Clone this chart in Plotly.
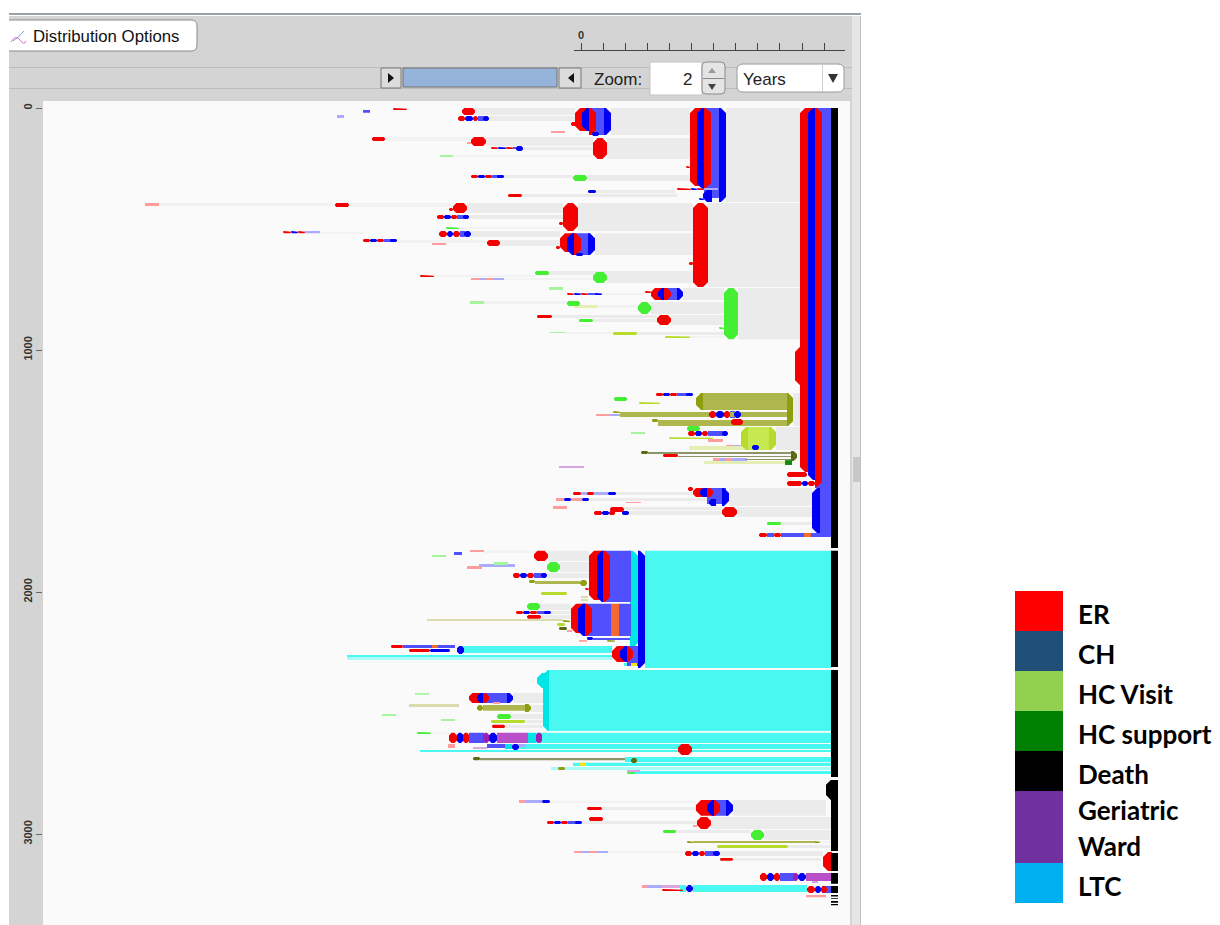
import plotly.graph_objects as go

W, H = 1220, 925
Y_PX_PER_UNIT = 0.242

Y_TICKS = [0, 1000, 2000, 3000]
RULER_TICKS = [0, 22.1, 44.2, 66.3, 88.4, 110.5, 132.6, 154.7, 176.8, 198.9, 221, 243.1]
RULER_LABELS = ["0"] + [""] * 11

LEGEND_LABELS = ["ER", "CH", "HC Visit", "HC support", "Death", "Geriatric", "Ward", "LTC"]
LEGEND_COLORS = ["#FF0000", "#1F4E79", "#92D050", "#008000", "#000000", "#7030A0", "#00B0F0"]
LEGEND_SPANS = [1, 1, 1, 1, 1, 1.8, 1]

# every episode: (start, end, first row, last row)
GREY_GAPS = [
    (30,109,0,112),(26,109,124,211),(-106,-6,0,29),(-92,-6,33,54),(-95,12,120,157),
    (-58,12,161,174),(6,109,277,302),(-77,-8,277,289),(15,94,339,351),(-59,96,355,368),
    (145,219,0,388),(127,219,393,740),(26,112,678,723),(-3,112,393,508),(14,112,517,607),(-114,-18,393,434),
    (-112,-18,442,459),(-110,-21,508,533),
    (-81,-21,545,570),(102,143,744,793),(70,143,802,851),(90,143,855,897),
    (157,219,744,955),(-32,112,674,690),
    (-29,76,855,868),(12,76,872,884),(56,143,926,938),
    (212,219,1178,1314),(195,219,1318,1413),(148,231,1570,1645),(156,231,1649,1690),(35,112,1587,1599),
    (8,128,1611,1624),(43,141,1649,1661),(48,141,1665,1682),(200,231,1711,1723),(-33,8,1830,1872),
    (-21,8,1876,1917),(-34,8,1921,1942),(-30,-10,2078,2091),(-41,-10,2049,2074),
    (-40,-10,2095,2111),(-68,-38,2417,2459),(-50,-38,2467,2496),(-70,-38,2504,2525),(-56,-38,2529,2541),
    (-76,-38,2549,2562),(152,245,2859,2925),(130,251,2930,2979),(21,115,2888,2901),(1,116,2946,2959),
    (95,170,2983,2996),(183,251,2983,3025),(139,242,3070,3091),(152,240,3099,3111),
    (207,251,3045,3058),
]
GREY_GAPS_THIN = [
    (-196,-110,120,136),(-128,12,194,202),(-232,-128,393,409),(-422,-246,393,405),(-122,-18,492,500),
    (-184,-94,545,558),(-261,-218,512,521),(-147,-46,690,698),(-77,12,702,711),(21,64,764,773),(17,57,814,826),
    (-97,-14,797,810),(-16,32,926,934),(109,143,942,950),(-97,-47,1830,1839),(239,251,3029,3037),
    (-31,115,2863,2872),(27,104,3070,3078),(-150,-132,2582,2587),
]
LTC_STAYS = [
    (64,251,1830,2314),(-33,251,2322,2574),(-121,31,2223,2252),(-234,31,2260,2269),(-45,251,2582,2624),
    (-76,251,2628,2649),(-161,251,2653,2661),(44,251,2682,2702),(-8,251,2706,2719),(46,251,2740,2752),
    (112,226,3211,3240),(43,50,2293,2306),(99,105,3211,3240),
]
LTC_PALE = [(-30,251,2723,2735),(-234,31,2269,2281)]
LTC_CAPS_RIGHT = [(49,57,1830,2231)]
LTC_CAPS_LEFT = [(-38,-32,2322,2574),(-44,-32,2335,2397)]
CH_LIGHT = [
    (234,250,0,1570),(8,25,0,112),(123,140,0,372),(-7,9,517,607),(83,98,744,793),(-103,-97,33,54),
    (-68,-64,161,169),(-89,-83,277,289),(-124,-117,442,459),(-121,-116,508,533),(-197,-190,541,554),
    (7,15,764,773),(96,106,1178,1190),(149,154,1252,1281),(127,142,1335,1355),(126,145,1570,1636),
    (-47,-39,1921,1942),(-44,-36,2078,2091),(22,50,1830,2041),(4,31,2049,2182),(38,50,2049,2182),
    (12,49,2190,2198),(46,59,2223,2306),(-98,-72,2417,2459),(-112,-97,2582,2624),(-94,-75,2628,2645),
    (133,147,2859,2925),(124,133,3070,3091),(199,213,3161,3194),(241,251,3215,3244),(239,251,1570,1756),
    (200,224,1756,1773),(230,251,1756,1773),(186,193,1756,1773),(-13,-5,2946,2959),(-178,-149,2219,2231),
    (-143,-126,2219,2231),(-218,-211,8,20),(-127,-119,1835,1847),
]
CH_PALE = [
    (-244,-237,29,41),(-103,-95,702,711),(-88,-77,702,711),(0,6,1587,1599),(13,27,1587,1599),(152,160,1392,1413),
    (165,171,1392,1413),(139,145,1446,1459),(151,166,1446,1459),(-55,-39,2859,2872),(1,9,3070,3078),
    (17,27,3070,3078),(123,137,331,339),(-102,-66,1884,1897),(29,44,1264,1273),(-276,-268,508,517),
    (-268,-261,508,517),(-75,-55,2628,2640),(67,81,3211,3223),
]
ER_PALE = [
    (-30,-16,95,103),(-114,-110,140,149),(-436,-422,393,405),(-149,-135,558,566),(-110,-102,702,711),
    (-95,-88,702,711),(15,29,1264,1273),(127,142,1368,1380),(145,152,1392,1413),(159,165,1392,1413),
    (132,139,1446,1459),(145,151,1446,1459),(45,60,1628,1632),(-28,-14,1645,1657),(-25,-17,1611,1624),
    (-10,1,1611,1624),(-111,-97,1826,1835),(-114,-99,1892,1905),(-14,-9,2157,2165),(-133,-126,2628,2645),
    (-62,-55,2859,2872),(-7,1,3070,3078),(9,17,3070,3078),(61,67,3211,3223),(225,245,3252,3261),
    (-2,6,2198,2206),(-88,-81,2454,2463),(112,116,2963,2971),
]
ER_VISITS = [
    (-10,-5,58,74),
    (-188,-174,0,8),(-119,-106,0,29),(-123,-116,33,54),(-108,-103,33,54),(-209,-196,120,136),(-110,-95,120,157),
    (-90,-83,161,169),(-75,-68,161,169),(12,26,124,211),(-110,-103,277,289),(-96,-89,277,289),(-73,-59,355,368),
    (-246,-232,393,409),(-128,-114,393,434),(-132,-128,413,426),(-144,-137,442,459),(-130,-124,442,459),
    (-18,-3,393,508),(-22,-18,471,483),(-142,-134,508,533),(-128,-121,508,533),(-218,-211,541,554),
    (-204,-197,541,554),(-94,-81,545,570),(-25,-21,570,583),
    (105,109,240,248),(96,110,331,339),(116,123,331,339),(112,127,393,740),(108,112,636,649),
    (64,70,756,764),(76,90,855,897),(-44,-29,855,868),(-161,-147,690,698),
    (-14,-7,764,773),(0,7,764,773),(-298,-290,508,517),(-283,-276,508,517),(206,226,1504,1525),(206,221,1541,1562),
    (227,234,1541,1562),(75,82,1178,1190),(89,96,1178,1190),(128,135,1252,1281),(143,149,1252,1281),
    (150,162,1285,1310),(107,114,1335,1355),(121,127,1335,1355),(82,97,1430,1442),(107,112,1566,1583),
    (-8,0,1587,1599),(6,13,1587,1599),(29,43,1649,1669),(13,21,1665,1682),
    (28,34,1665,1682),(141,156,1649,1690),(178,186,1756,1773),(193,200,1756,1773),(-47,-33,1830,1872),
    (-68,-61,1921,1942),(-54,-47,1921,1942),(4,8,1983,1992),(-65,-58,2078,2091),
    (-51,-44,2078,2091),(-54,-40,2095,2111),
    (-190,-178,2219,2231),(-172,-151,2235,2248),(-89,-76,2549,2562),
    (-132,-124,2582,2624),(-118,-112,2582,2624),(97,111,2628,2673),(6,21,2888,2901),(8,22,2930,2946),
    (-34,-27,2946,2959),(-20,-13,2946,2959),
    (116,130,2930,2979),(104,111,3070,3091),(118,124,3070,3091),(139,152,3099,3111),
    (179,186,3161,3194),(193,199,3161,3194),(226,234,3215,3244),(240,246,3215,3244),(81,102,3227,3236),
]
ER_LOBES = [
    (219,234,0,1504),(214,220,988,1145),(-6,8,0,95),(-21,-7,517,595),(109,123,0,322),(70,83,744,793),
    (112,126,1570,1607),(8,22,1830,2033),(-10,4,2049,2169),(31,46,2223,2289),(-112,-98,2417,2459),
    (115,133,2859,2925),(242,251,3074,3153),
]
ER_RIGHT_HALVES = [
    (234,241,0,1566),(8,15,0,112),(-7,0,517,607),(123,130,0,331),(83,90,744,793),(126,132,1570,1607),
    (22,29,1830,2041),(4,11,2049,2182),(46,52,2223,2289),(-98,-92,2417,2459),(133,139,2859,2925),
]
CH_LEFT_HALVES = [
    (227,234,0,1537),(1,8,0,95),(-14,-7,517,607),(116,123,0,334),(77,83,744,793),(119,126,1570,1607),
    (16,22,1830,2041),(-3,4,2049,2182),(39,46,2223,2289),(-104,-98,2417,2459),(126,133,2859,2925),
    (122,131,339,388),(231,239,1570,1756),(128,135,1616,1645),
]
CH_RIGHT_ENDS = [
    (23,30,0,112),(7,14,517,607),(138,145,0,388),(96,102,744,793),(141,148,1570,1645),(57,64,1830,2314),
    (-74,-68,2417,2459),(145,152,2859,2925),
]
CH_STAYS = [
    (11,18,99,116),(-116,-108,33,54),(-98,-92,33,54),(-83,-75,161,169),
    (-65,-58,157,178),(-103,-96,277,289),(-84,-77,277,289),(7,15,339,351),(-137,-130,442,459),
    (-118,-112,442,459),(-134,-128,508,533),(-117,-110,508,533),(-211,-204,541,554),(-191,-184,541,554),
    (-290,-283,508,517),(-5,2,599,612),
    (110,116,331,339),(118,123,372,380),(-7,0,764,773),(14,21,764,773),
    (82,89,1178,1190),(105,112,1178,1190),(135,143,1252,1281),(153,160,1252,1281),
    (114,121,1335,1355),(141,147,1335,1355),(171,178,1392,1413),
    (27,35,1587,1599),(-17,-10,1611,1624),(1,8,1611,1624),(21,28,1665,1682),(41,48,1665,1682),
    (221,227,1541,1562),(-61,-54,1921,1942),(-40,-34,1921,1942),
    (-58,-51,2078,2091),(-37,-30,2078,2091),(6,12,2186,2198),
    (-124,-117,2223,2256),(-151,-131,2235,2248),
    (-124,-118,2582,2624),(-92,-84,2582,2624),(-69,-62,2628,2653),
    (-39,-31,2859,2872),(-27,-20,2946,2959),(-6,1,2946,2959),(111,118,3070,3091),(132,139,3070,3091),
    (186,193,3161,3194),(217,225,3161,3194),(105,112,3211,3240),(234,240,3215,3244),
]
HC_VISITS = [
    (-8,6,277,302),(-135,-122,492,500),(-46,-32,674,690),(12,26,678,723),(-14,-1,797,818),(57,70,802,851),
    (-2,12,872,884),(143,157,744,955),(138,143,905,913),(33,46,1194,1211),(106,119,1314,1335),(186,200,1711,1723),
    (-34,-21,1876,1917),(-54,-41,2045,2074),(-84,-70,2504,2525),(-164,-150,2578,2587),(82,95,2983,2996),
    (170,183,2983,3025),(47,54,2744,2752),
]
HC_VISITS_PALE = [
    (-141,-128,194,202),(-32,-18,740,752),(-111,-97,797,810),(-31,-16,926,930),(50,64,1339,1347),(-87,-73,1876,1888),
    (-149,-135,1847,1855),(-166,-152,2417,2425),(-199,-185,2504,2512),(-140,-126,2525,2533),
]
OLIVE_LIGHT = [(122,206,1178,1248),(39,206,1256,1277),(77,206,1289,1314),(-46,-1,1954,1967),(-98,-56,2467,2491),(112,233,3029,3037)]
OLIVE_LEFT_CAPS = [(115,122,1178,1248)]
OLIVE_RIGHT_CAPS = [(206,212,1178,1314),(-56,-50,2463,2496)]
OLIVE_DARK = [
    (32,39,1252,1260),(71,77,1285,1297),(-52,-46,1950,1963),(-1,6,1950,1975),
    (-18,-11,2116,2124),(-104,-98,2467,2491),(106,112,3029,3037),(233,239,3029,3037),
    (-23,-16,2723,2735),(26,34,2198,2206),
]
OLIVE_PALE = [(-154,-18,2112,2120),(-172,-122,2463,2475),(0,7,2016,2025),(0,7,2029,2037)]
OLIVE_GREY = [(-101,44,2686,2695),(67,210,1421,1430),(97,210,1438,1442),(164,210,1450,1455)]
OLIVE_DEEP = [(-108,-101,2682,2695),(50,56,2686,2707),(60,67,1417,1430),(-22,-14,2145,2157)]
OLIVE_DEEP_TIPS = [(210,216,1417,1459)]
LIME = [
    (32,56,926,938),(84,109,942,950),(58,79,1215,1223),(88,132,1360,1368),
    (-40,-14,2000,2012),(-24,-16,2128,2140),(-90,-56,2529,2541),(136,207,3045,3058),
]
LIME_LEFT_CAPS = [(160,167,1318,1413)]
LIME_RIGHT_CAPS = [(188,195,1318,1413)]
LIME_LIGHT = [(167,188,1318,1413)]
LIME_PALE = [(108,189,1397,1413),(-7,17,814,826),(123,204,1459,1471)]
HC_SUPPORT = [(204,211,1455,1475)]
GERIATRIC = [(-98,-92,2582,2624),(-45,-39,2582,2624),(212,217,3161,3194)]
GERIATRIC_MID = [(-84,-53,2582,2624),(225,251,3161,3194)]
GERIATRIC_PALE = [(-22,3,1479,1488),(-108,-94,2640,2649),(231,237,3190,3202),(46,59,2735,2744),(81,99,3211,3223)]
ORANGE = [(223,230,1756,1773),(30,38,2049,2182),(-149,-143,2219,2231)]
YELLOW = [(50,56,2293,2306),(-1,5,2706,2719)]
LTC_ENTRY = [(-53,-45,2582,2624),(-76,-69,2628,2649)]
DEATH = [
    (250,257,0,1818),(250,257,1830,2310),(250,257,2322,2764),(250,257,2777,3070),(250,257,3078,3153),
    (250,257,3161,3206),(250,257,3215,3244),(250,257,3252,3258),(250,257,3264,3268),(250,257,3277,3284),
    (250,257,3289,3294),
]
DEATH_LOBES = [(245,251,2777,2859)]

# (episodes, colour, cut corners on which sides)
LAYERS = [
    (GREY_GAPS, "#ebebeb", ""),
    (GREY_GAPS_THIN, "#f2f2f2", ""),
    (LTC_STAYS, "#49f8f0", ""),
    (LTC_PALE, "#a8fbf7", ""),
    (LTC_CAPS_RIGHT, "#00e6e6", "R"),
    (LTC_CAPS_LEFT, "#00e6e6", "L"),
    (CH_LIGHT, "#5050ff", ""),
    (CH_PALE, "#aaaaff", ""),
    (ER_PALE, "#ff9d9d", ""),
    (OLIVE_PALE, "#dadcb0", ""),
    (OLIVE_LIGHT, "#aeb74e", ""),
    (OLIVE_GREY, "#8f9468", ""),
    (OLIVE_DARK, "#8f9e0f", "LR"),
    (OLIVE_LEFT_CAPS, "#8f9e0f", "L"),
    (OLIVE_RIGHT_CAPS, "#8f9e0f", "R"),
    (OLIVE_DEEP, "#5d6b12", "LR"),
    (OLIVE_DEEP_TIPS, "#5d6b12", "R"),
    (LIME_PALE, "#e3efb5", ""),
    (LIME_LIGHT, "#c6e850", ""),
    (LIME, "#b6db2a", "LR"),
    (LIME_LEFT_CAPS, "#b6db2a", "L"),
    (LIME_RIGHT_CAPS, "#b6db2a", "R"),
    (HC_SUPPORT, "#0e8a0e", ""),
    (HC_VISITS_PALE, "#a5f59c", ""),
    (HC_VISITS, "#44ee33", "LR"),
    (GERIATRIC_PALE, "#d7a6e0", ""),
    (GERIATRIC_MID, "#b94fc9", ""),
    (GERIATRIC, "#a01cb8", "LR"),
    (ORANGE, "#f36a30", ""),
    (YELLOW, "#f5e510", ""),
    (LTC_ENTRY, "#00e6e6", ""),
    (ER_LOBES, "#f40000", "L"),
    (CH_LEFT_HALVES, "#0000f5", "L"),
    (ER_RIGHT_HALVES, "#f40000", "R"),
    (CH_RIGHT_ENDS, "#0000f5", "R"),
    (ER_VISITS, "#f40000", "LR"),
    (CH_STAYS, "#0000f5", "LR"),
    (DEATH, "#000000", ""),
    (DEATH_LOBES, "#000000", "L"),
]


def polygons(episodes, cut):
    xs, ys = [], []
    for x0, x1, y0, y1 in episodes:
        w, h_px = x1 - x0, (y1 - y0) * Y_PX_PER_UNIT
        limit = 0.8 * w if len(cut) == 1 else 0.33 * w
        c = min(5, limit, 0.33 * h_px) if cut else 0
        d = c / Y_PX_PER_UNIT
        cl = c if "L" in cut else 0
        cr = c if "R" in cut else 0
        dl = d if "L" in cut else 0
        dr = d if "R" in cut else 0
        xs += [x0 + cl, x1 - cr, x1, x1, x1 - cr, x0 + cl, x0, x0, x0 + cl, None]
        ys += [y0, y0, y0 + dr, y1 - dr, y1, y1, y1 - dl, y0 + dl, y0, None]
    return xs, ys


fig = go.Figure()
for episodes, colour, cut in LAYERS:
    xs, ys = polygons(episodes, cut)
    fig.add_trace(go.Scatter(x=xs, y=ys, mode="lines", fill="toself", fillcolor=colour,
                             line=dict(width=0, color=colour), hoverinfo="skip", showlegend=False))

fig.add_trace(go.Scatter(x=RULER_TICKS, y=[0] * len(RULER_TICKS), xaxis="x2", yaxis="y2", mode="markers",
                         marker=dict(size=1, opacity=0), hoverinfo="skip", showlegend=False))

base = 0
bases = []
for s in LEGEND_SPANS:
    bases.append(base)
    base += s
fig.add_trace(go.Bar(x=[0] * len(LEGEND_SPANS), y=LEGEND_SPANS, base=bases, width=1,
                     marker=dict(color=LEGEND_COLORS, line=dict(width=0)),
                     xaxis="x3", yaxis="y3", hoverinfo="skip", showlegend=False))


def px(v):
    return v / W


def py(v):
    return 1 - v / H


shapes = []
annots = []


def rect(x0, y0, x1, y1, fill, line=None, lw=0):
    shapes.append(dict(type="rect", xref="paper", yref="paper", x0=px(x0), x1=px(x1), y0=py(y0), y1=py(y1),
                       fillcolor=fill, line=dict(color=line or fill, width=lw), layer="below"))


def round_rect(x0, y0, x1, y1, r, fill, line, lw=1):
    a, b, c, d = px(x0), px(x1), py(y0), py(y1)
    rx, ry = r / W, r / H
    path = (f"M{a+rx},{c} L{b-rx},{c} Q{b},{c} {b},{c-ry} L{b},{d+ry} Q{b},{d} {b-rx},{d} "
            f"L{a+rx},{d} Q{a},{d} {a},{d+ry} L{a},{c-ry} Q{a},{c} {a+rx},{c} Z")
    shapes.append(dict(type="path", xref="paper", yref="paper", path=path, fillcolor=fill,
                       line=dict(color=line, width=lw), layer="below"))


def tri(points, fill):
    path = "M" + " L".join(f"{px(x)},{py(y)}" for x, y in points) + " Z"
    shapes.append(dict(type="path", xref="paper", yref="paper", path=path, fillcolor=fill,
                       line=dict(width=0), layer="above"))


def text(x, y, s, size, color="#111111", family="Liberation Sans", anchor="left", bold=False):
    annots.append(dict(xref="paper", yref="paper", x=px(x), y=py(y), text=f"<b>{s}</b>" if bold else s, showarrow=False,
                       xanchor=anchor, yanchor="middle", font=dict(size=size, color=color, family=family),
                       borderpad=0, borderwidth=0))


# application window
rect(9, 16, 852, 101, "#d4d4d4")
rect(9, 101, 43, 925, "#d4d4d4")
rect(43, 101, 850, 925, "#fafafa")
rect(850, 101, 852, 925, "#d4d4d4")
rect(852, 16, 861, 925, "#e6e6e6")
rect(853, 457, 860, 482, "#c8c8c8")
rect(9, 13, 861, 15, "#9aa0a8")
rect(9, 67, 852, 68, "#bdbdbd")
rect(9, 88, 852, 89, "#bdbdbd")
rect(860, 16, 861, 925, "#c2c2c2")

# button
round_rect(2, 20, 197, 51, 6, "#ffffff", "#8a8a8a", 1)
rect(0, 14, 9, 60, "#ffffff")
text(33, 36, "Distribution Options", 16.8)
shapes.append(dict(type="path", xref="paper", yref="paper", layer="above", line=dict(color="#e070c0", width=1),
                   path=f"M{px(11)},{py(42)} Q{px(16)},{py(34)} {px(20)},{py(40)} T{px(26)},{py(41)}"))
shapes.append(dict(type="path", xref="paper", yref="paper", layer="above", line=dict(color="#7aa0d8", width=1),
                   path=f"M{px(13)},{py(41)} Q{px(18)},{py(38)} {px(24)},{py(31)}"))

# slider
rect(381, 68, 401, 88, "#dcdcdc", "#777777", 1)
tri([(388, 73), (388, 83), (394, 78)], "#111111")
rect(403, 68, 557, 87, "#96b3d9", "#6f6f6f", 1)
rect(559, 68, 581, 88, "#dcdcdc", "#777777", 1)
tri([(574, 73), (574, 83), (568, 78)], "#111111")

# zoom controls
text(594, 79, "Zoom:", 17, "#222222")
rect(650, 62, 702, 95, "#ffffff", "#c4c4c4", 1)
text(692, 79, "2", 17, "#222222", anchor="right")
round_rect(702, 62, 725, 94, 4, "#e4e4e4", "#8a8a8a", 1)
rect(703, 78, 724, 79, "#8a8a8a")
tri([(708, 73), (716, 73), (712, 68)], "#9a9a9a")
tri([(708, 84), (716, 84), (712, 90)], "#444444")
round_rect(737, 64, 844, 92, 6, "#ffffff", "#9a9a9a", 1)
rect(822, 65, 823, 91, "#d0d0d0")
text(743, 79, "Years", 17, "#222222")
tri([(828, 74), (838, 74), (833, 83)], "#333333")

# legend text
for label, y in zip(LEGEND_LABELS, [614, 654, 694, 734, 774, 810, 846, 886]):
    text(1078, y, label, 26, "#000000", "Lato", bold=True)

TICK_FONT = dict(size=11, color="#333333", family="Liberation Sans", weight=700)

fig.update_layout(
    width=W, height=H, autosize=False, margin=dict(l=0, r=0, t=0, b=0, pad=0),
    paper_bgcolor="#ffffff", plot_bgcolor="rgba(0,0,0,0)", showlegend=False, barmode="overlay",
    shapes=shapes, annotations=annots,
    xaxis=dict(domain=[43 / W, 850 / W], range=[43 - 581, 850 - 581], visible=False, fixedrange=True),
    yaxis=dict(domain=[0, 1 - 101 / H], range=[3376, -29], tickvals=Y_TICKS, ticks="outside", ticklen=6, tickwidth=1,
               tickcolor="#666666", tickangle=-90, showgrid=False, zeroline=False, showline=False,
               tickfont=TICK_FONT, fixedrange=True),
    xaxis2=dict(domain=[574 / W, 845 / W], range=[-7, 264], side="top", anchor="y2", tickvals=RULER_TICKS,
                ticktext=RULER_LABELS, ticks="outside", ticklen=7, tickwidth=1, tickcolor="#444444", showline=True,
                linecolor="#444444", linewidth=1, showgrid=False, zeroline=False,
                tickfont=TICK_FONT, tickangle=0, fixedrange=True),
    yaxis2=dict(domain=[0.85, 1 - 51 / H], range=[0, 1], visible=False, fixedrange=True),
    xaxis3=dict(domain=[1015 / W, 1063 / W], range=[-0.5, 0.5], anchor="y3", visible=False, fixedrange=True),
    yaxis3=dict(domain=[1 - 903 / H, 1 - 591 / H], range=[sum(LEGEND_SPANS), 0], anchor="x3", visible=False, fixedrange=True),
)

fig.write_html("out.html", post_script="document.body.style.margin='0';", config={"displayModeBar": False})
